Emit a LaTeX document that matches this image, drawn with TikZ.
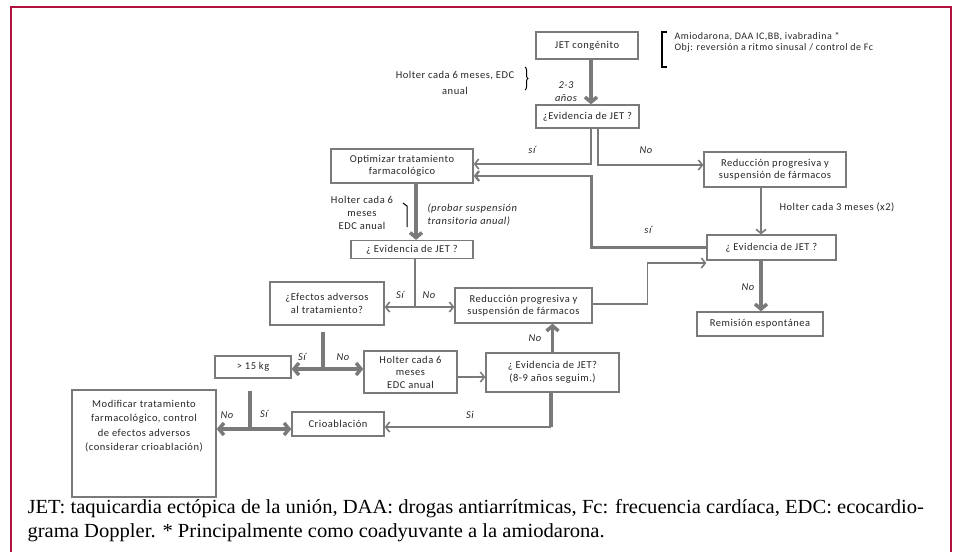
\documentclass[tikz,border=0pt]{standalone}
\usepackage{fontspec}
\setmainfont[LetterSpace=5]{Carlito}
\newfontfamily\capfont[FakeStretch=1.03]{Liberation Serif}
\usetikzlibrary{arrows.meta,decorations.pathreplacing}
\definecolor{frame}{RGB}{178,18,62}
\definecolor{ln}{RGB}{122,122,122}
\def\sm{\fontsize{10.5}{12.5}\selectfont}

\begin{document}
\begin{tikzpicture}[x=1pt,y=-1pt,
  box/.style={draw=ln,line width=1.3pt,inner sep=1pt,align=center,font=\sm,text=black!85},
  arr/.style={draw=ln,line width=1.6pt,-{Straight Barb[length=4pt,width=10pt]}},
  thk/.style={draw=ln,line width=3.5pt,-{Straight Barb[length=5pt,width=12pt]}},
  lbl/.style={font=\sm\itshape,text=black!85},
  note/.style={font=\sm,align=center,text=black!85}]
  \useasboundingbox (0,0) rectangle (954,552);
  \draw[frame,line width=2.6pt] (11,552) -- (11,7) -- (951,7) -- (951,552);

  \node[box,minimum width=102pt,minimum height=27pt] (jet) at (587,45.5) {JET congénito};
  \node[box,minimum width=103pt,minimum height=23pt] (ev1) at (587.5,116.5) {¿Evidencia de JET ?};
  \node[box,minimum width=142pt,minimum height=34pt] (opt) at (402,166) {Optimizar tratamiento\\farmacológico};
  \node[box,minimum width=142pt,minimum height=35pt] (red1) at (775,169.5) {Reducción progresiva y\\suspensión de fármacos};
  \node[box,minimum width=122pt,minimum height=18pt] (ev2) at (412,249.5) {¿ Evidencia de JET ?};
  \node[box,minimum width=129pt,minimum height=25pt] (ev3) at (771.5,247.5) {¿ Evidencia de JET ?};
  \node[box,minimum width=126pt,minimum height=24pt] (rem) at (760,324) {Remisión espontánea};
  \node[box,minimum width=114pt,minimum height=43pt] (efe) at (327,303.5) {¿Efectos adversos\\al tratamiento?};
  \node[box,minimum width=137pt,minimum height=35pt] (red2) at (523.5,305.5) {Reducción progresiva y\\suspensión de fármacos};
  \node[box,minimum width=76pt,minimum height=22pt] (kg) at (253,367) {> 15 kg};
  \node[box,minimum width=93pt,minimum height=42pt] (hol) at (410.5,372) {Holter cada 6\\meses\\EDC anual};
  \node[box,minimum width=133pt,minimum height=39pt] (ev4) at (552.5,372.5) {¿ Evidencia de JET?\\(8-9 años seguim.)};
  \node[box,minimum width=144pt,minimum height=107pt,font=\fontsize{10.5}{14.5}\selectfont] (mod) at (144,443.5)
    {Modificar tratamiento\\farmacológico, control\\de efectos adversos\\(considerar crioablación)\\[22pt]\mbox{}};
  \node[box,minimum width=92pt,minimum height=24pt] (crio) at (338,424) {Crioablación};

  % side notes
  \node[note,font=\fontsize{10.5}{16}\selectfont] (hd1) at (455,83) {Holter cada 6 meses, EDC\\anual};
  \draw[decorate,decoration={brace,amplitude=3pt},line width=1pt] (525,67) -- (525,90);
  \node[lbl,align=center,font=\fontsize{10.5}{13}\selectfont\itshape] (yrs) at (566,92) {2-3\\años};
  \draw[line width=1.2pt] (667,32) -- (662,32) -- (662,67) -- (667,67);
  \node[note,align=left,anchor=west,font=\fontsize{10}{11.5}\selectfont] (amio) at (671,42.5)
    {Amiodarona, DAA IC,BB, ivabradina *\\Obj: reversión a ritmo sinusal / control de Fc};
  \node[note,font=\fontsize{10.5}{13}\selectfont] (hd2) at (362,213) {Holter cada 6\\meses\\EDC anual};
  \draw[line width=1pt] (403,203) -- (407,206) -- (407,227);
  \node[lbl,align=left,anchor=west,font=\fontsize{10.5}{13}\selectfont\itshape] (prob) at (424,214.5)
    {(probar suspensión\\transitoria anual)};
  \node[note,anchor=west] (hd3) at (776,207) {Holter cada 3 meses (x2)};

  % connectors
  \draw[thk] ([xshift=4pt]jet.south) -- ([xshift=3.5pt]ev1.north);
  \draw[arr] ([xshift=3.5pt]ev1.south) |- ([yshift=2pt]opt.east);
  \draw[arr] ([xshift=10.5pt]ev1.south) |- ([yshift=4.5pt]red1.west);
  \draw[arr,line width=2.3pt] (ev3.west) -- ++(-115,0) |- ([yshift=-10pt]opt.east);
  \draw[arr] ([xshift=-14pt]red1.south) -- ([xshift=-10.5pt]ev3.north);
  \draw[thk] ([xshift=-10.5pt]ev3.south) -- ([xshift=1pt]rem.north);
  \draw[thk] ([xshift=14pt]opt.south) -- ([xshift=4pt]ev2.north);

  \coordinate (s1) at (415,307);
  \draw[arr,-] ([xshift=3pt]ev2.south) -- (s1);
  \draw[arr] (s1) -- (efe.east |- s1);
  \draw[arr] (s1) -- (red2.west |- s1);

  \coordinate (s2) at (323,369);
  \draw[thk,-] ([xshift=-4pt,yshift=-6pt]efe.south) -- (s2);
  \draw[thk] (s2) -- (kg.east |- s2);
  \draw[thk] (s2) -- (hol.west |- s2);

  \draw[arr] ([yshift=-5pt]hol.east) -- ([yshift=-4.5pt]ev4.west);
  \draw[thk] (ev4.north) -- (red2.south -| ev4.north);
  \draw[arr] ([yshift=1.5pt]red2.east) -- ++(55,0) |- ([yshift=-15.5pt]ev3.west);

  \coordinate (s4) at (551,427);
  \draw[thk,-] ([xshift=-1.5pt]ev4.south) -- (s4);
  \draw[arr] (s4) -- (crio.east |- s4);

  \coordinate (s3) at (250,429);
  \draw[thk,-] ([xshift=-3pt,yshift=-12pt]kg.south) -- (s3);
  \draw[thk] (s3) -- (mod.east |- s3);
  \draw[thk] (s3) -- (crio.west |- s3);

  % branch labels
  \node[lbl] (l1) at (532,150) {sí};
  \node[lbl] (l2) at (646,150) {No};
  \node[lbl] (l3) at (648,230) {sí};
  \node[lbl] (l4) at (748,287) {No};
  \node[lbl] (l5) at (400,295) {Sí};
  \node[lbl] (l6) at (429,295) {No};
  \node[lbl] (l7) at (302,357) {Sí};
  \node[lbl] (l8) at (343,357) {No};
  \node[lbl] (l9) at (535,338) {No};
  \node[lbl] (l10) at (470,415) {Si};
  \node[lbl] (l11) at (227,415) {No};
  \node[lbl] (l12) at (264,414) {Sí};

  % caption
  \node[anchor=west,align=left,font=\capfont\fontsize{20}{24}\selectfont] (cap) at (24,521)
    {JET: taquicardia ectópica de la unión, DAA: drogas antiarrítmicas, Fc: frecuencia cardíaca, EDC: ecocardio-\\
     grama Doppler. * Principalmente como coadyuvante a la amiodarona.};
\end{tikzpicture}
\end{document}
